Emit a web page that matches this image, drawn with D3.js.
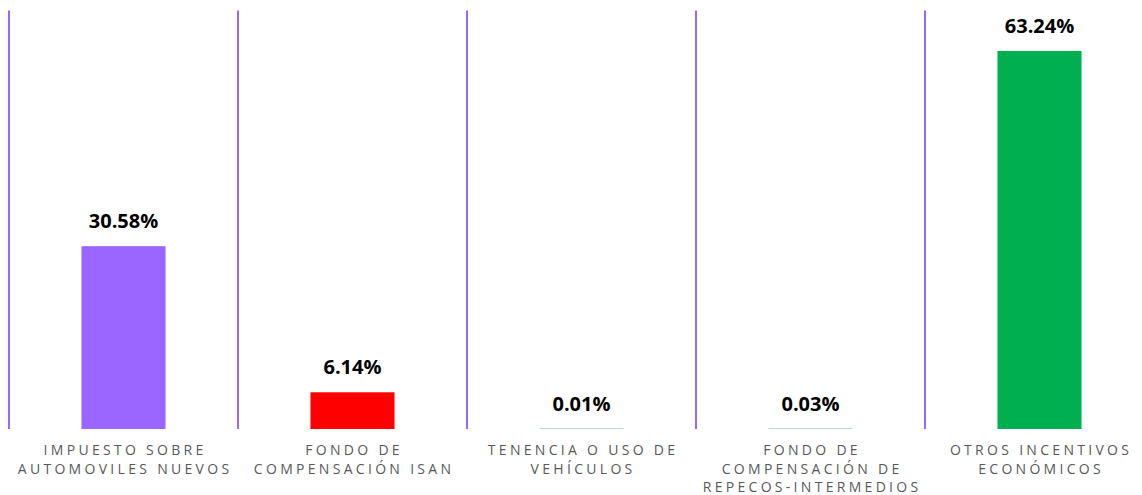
<!DOCTYPE html>
<html>
<head>
<meta charset="utf-8">
<script src="https://cdn.jsdelivr.net/npm/d3@7"></script>
<style>
  html, body { margin: 0; padding: 0; background: #fff; }
  svg { display: block; }
</style>
</head>
<body>
<div id="chart"></div>
<script>
// data
var categories = [
  ['IMPUESTO SOBRE', 'AUTOMOVILES NUEVOS'],
  ['FONDO DE', 'COMPENSACIÓN ISAN'],
  ['TENENCIA O USO DE', 'VEHÍCULOS'],
  ['FONDO DE', 'COMPENSACIÓN DE', 'REPECOS-INTERMEDIOS'],
  ['OTROS INCENTIVOS', 'ECONÓMICOS']
];
var values = [30.58, 6.14, 0.01, 0.03, 63.24];
var colors = ['#9966ff', '#ff0000', '#bdd7ee', '#bdd7ee', '#00b050'];

var w = 1142,
    h = 495;

var svg = d3.select('#chart').append('svg')
    .attr('width', w)
    .attr('height', h);

var keys = categories.map(function(d, i) { return i; });

// one band per category, bars centered inside
var band = d3.scaleBand()
    .domain(keys)
    .range([9, 1154])
    .padding(0);

var x = d3.scaleBand()
    .domain(keys)
    .range([9, 1154])
    .paddingInner(0.633)
    .paddingOuter(0.3165);

var y = d3.scaleLinear()
    .domain([0, 70])
    .range([429, 10.5]);

// separators at left edge of each band
svg.selectAll('.sep')
    .data(keys)
    .enter()
    .append('line')
    .attr('class', 'sep')
    .attr('x1', function(d) { return band(d); })
    .attr('x2', function(d) { return band(d); })
    .attr('y1', y(70))
    .attr('y2', y(0))
    .attr('stroke', '#9966ff')
    .attr('stroke-width', 2);

svg.selectAll('.bar')
    .data(values)
    .enter()
    .append('rect')
    .attr('class', 'bar')
    .attr('x', function(d, i) { return x(i); })
    .attr('width', x.bandwidth())
    .attr('y', function(d) { return Math.min(y(d), y(0) - 1); })
    .attr('height', function(d) { return Math.max(1, y(0) - y(d)); })
    .attr('fill', function(d, i) { return colors[i]; });

svg.selectAll('.val')
    .data(values)
    .enter()
    .append('text')
    .attr('class', 'val')
    .attr('x', function(d, i) { return x(i) + x.bandwidth() / 2; })
    .attr('y', function(d) { return y(d) - 18; })
    .attr('text-anchor', 'middle')
    .attr('font-family', '"Open Sans", sans-serif')
    .attr('font-weight', 'bold')
    .attr('font-size', '20px')
    .attr('fill', '#000')
    .text(function(d) { return d.toFixed(2) + '%'; });

var labels = svg.selectAll('.cat')
    .data(categories)
    .enter()
    .append('text')
    .attr('class', 'cat')
    .attr('text-anchor', 'middle')
    .attr('font-family', '"Open Sans", sans-serif')
    .attr('font-size', '14px')
    .attr('letter-spacing', '3.3px')
    .attr('fill', '#595959');

labels.selectAll('tspan')
    .data(function(d, i) { return d.map(function(t) { return {t: t, i: i}; }); })
    .enter()
    .append('tspan')
    .attr('x', function(d) { return band(d.i) + band.bandwidth() / 2 + 1.6; })
    .attr('y', function(d, j) { return 455 + j * 18.5; })
    .text(function(d) { return d.t; });
</script>
</body>
</html>
